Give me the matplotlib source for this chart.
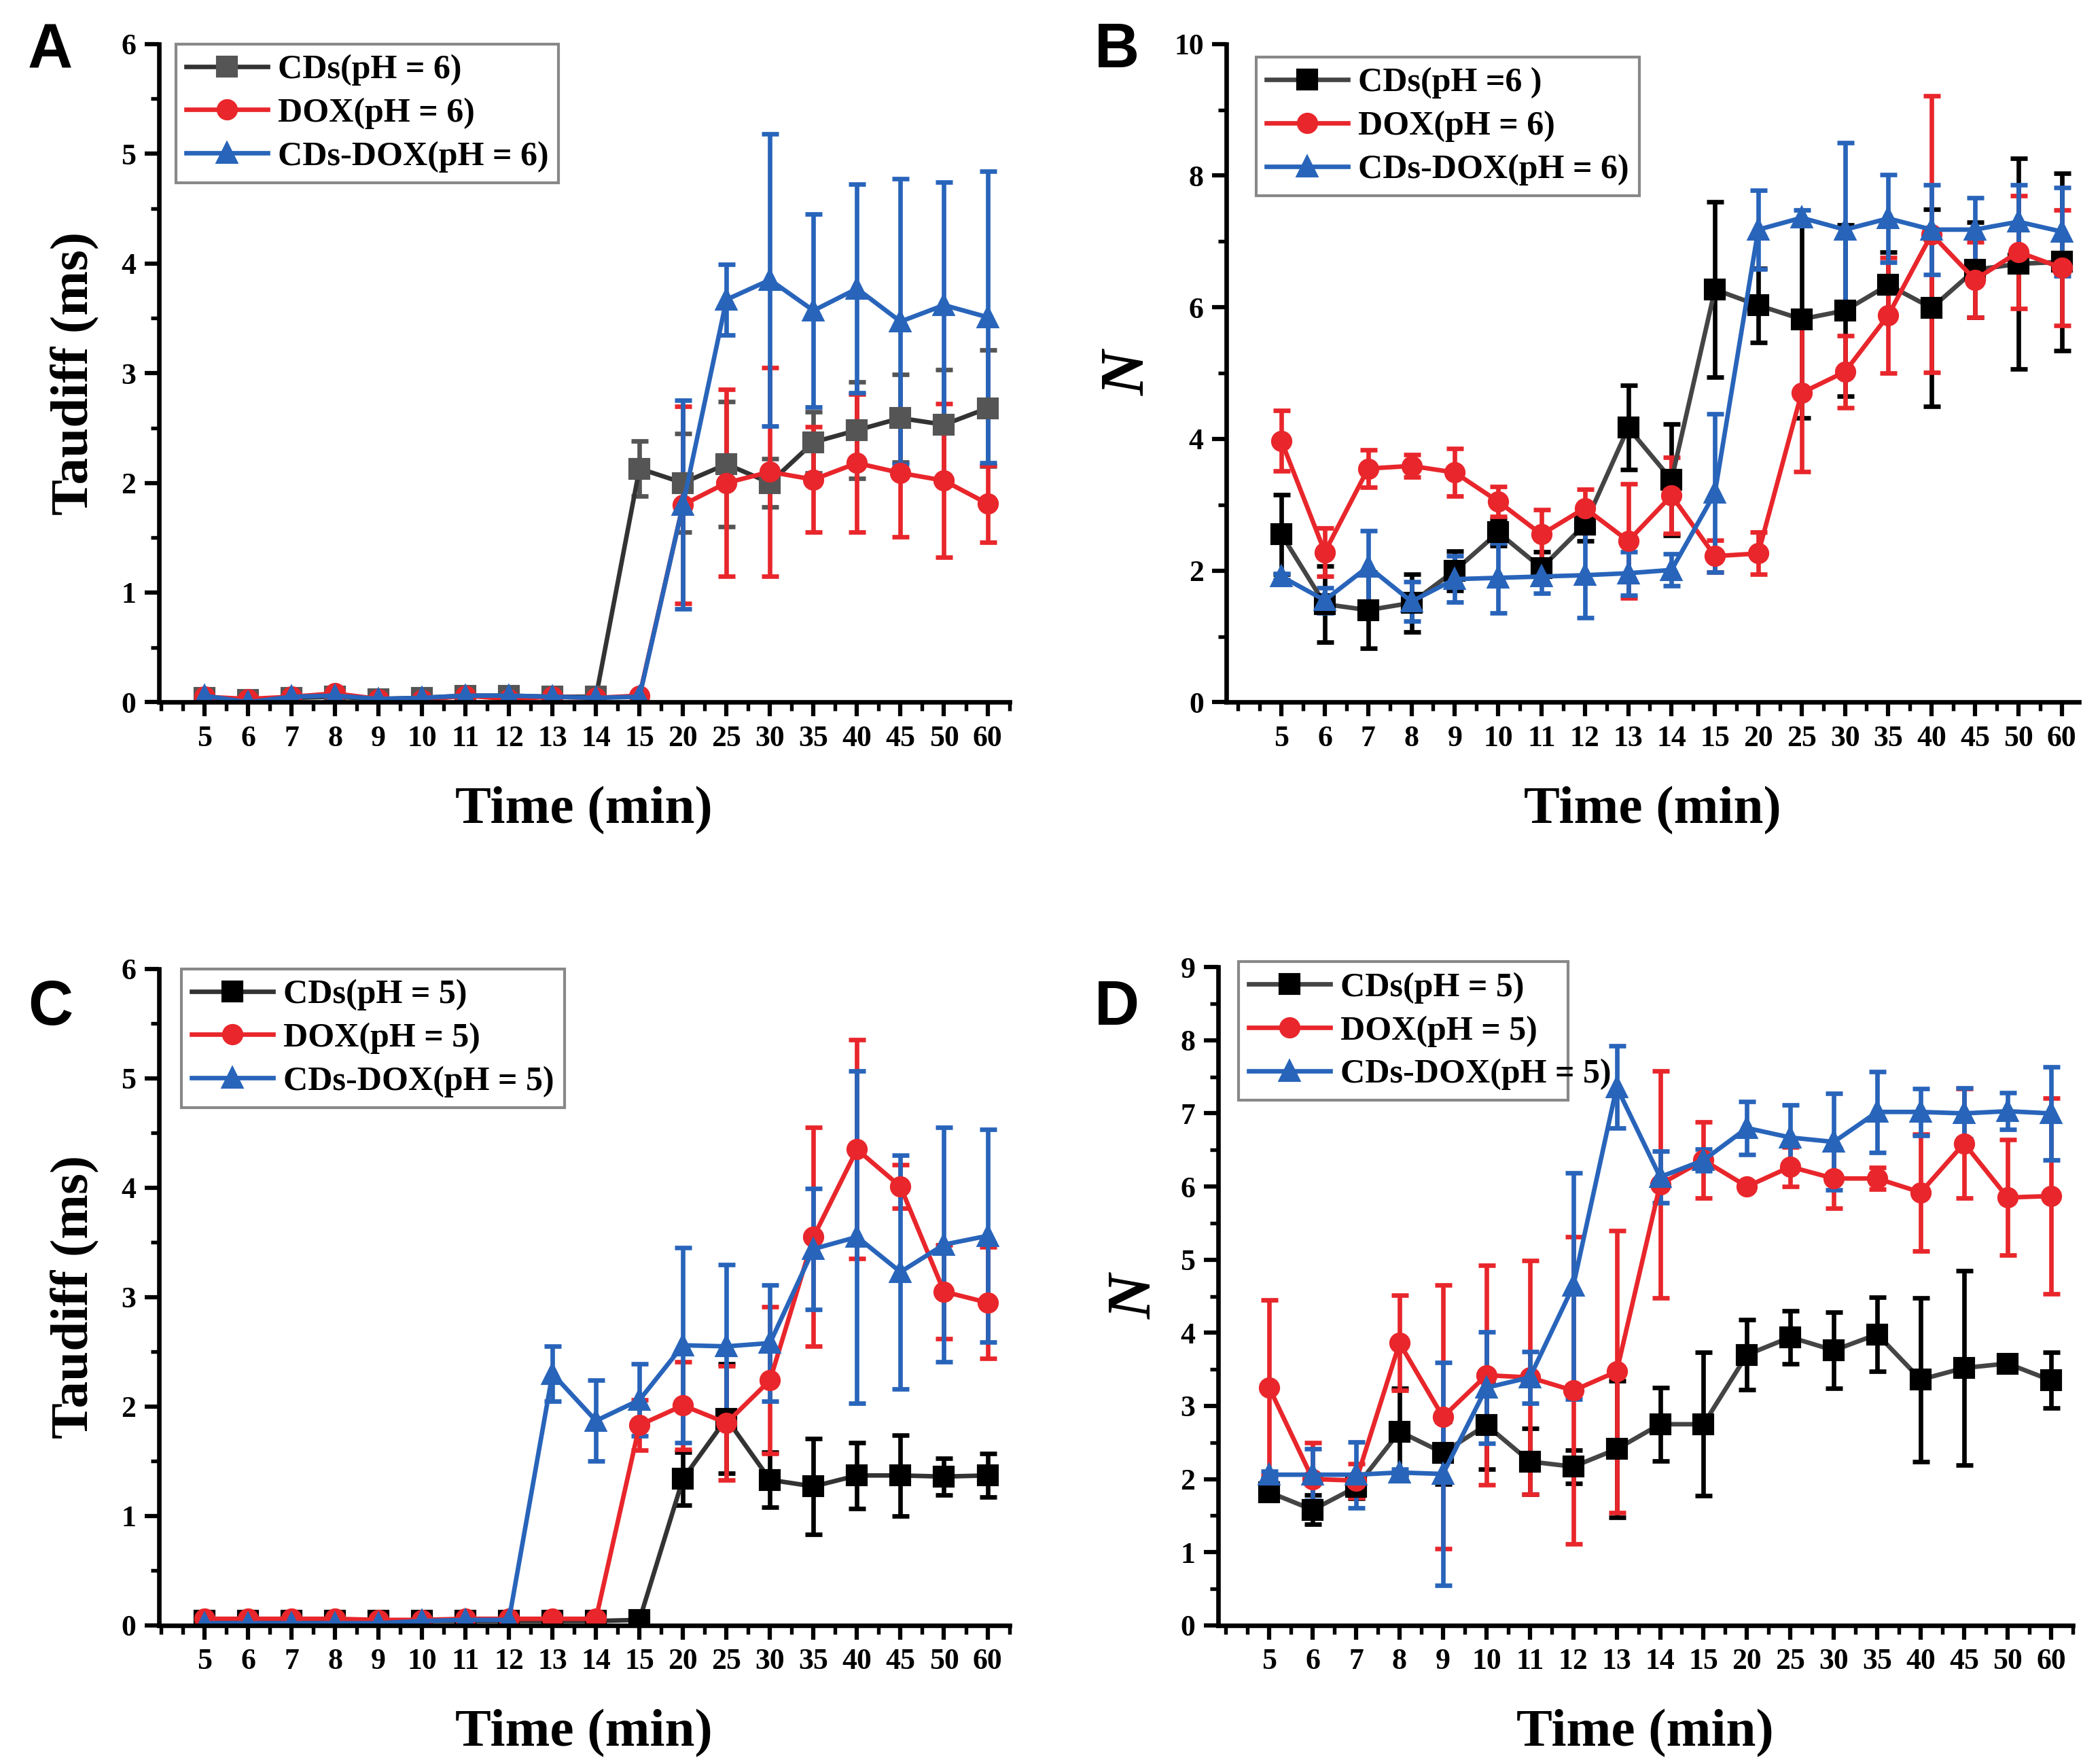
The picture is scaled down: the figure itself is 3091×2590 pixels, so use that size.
import numpy as np
import matplotlib
matplotlib.use('Agg')
import matplotlib.pyplot as plt
from matplotlib.ticker import MultipleLocator

plt.rcParams['font.family'] = ['Liberation Serif', 'DejaVu Serif']
plt.rcParams['font.weight'] = 'bold'

# 时间点（分类坐标）
time_labels = ['5', '6', '7', '8', '9', '10', '11', '12', '13', '14', '15',
               '20', '25', '30', '35', '40', '45', '50', '60']

# ---------------- A: Taudiff, pH = 6 ----------------
a_cds = [0.04, 0.02, 0.04, 0.05, 0.03, 0.04, 0.06, 0.06, 0.05, 0.05, 2.13,
         2.00, 2.17, 2.00, 2.37, 2.48, 2.59, 2.53, 2.68]
a_cds_err = [0.01, 0.01, 0.01, 0.01, 0.01, 0.01, 0.01, 0.01, 0.01, 0.01, 0.25,
             0.45, 0.57, 0.22, 0.28, 0.44, 0.40, 0.50, 0.53]
a_dox = [0.05, 0.03, 0.05, 0.08, 0.03, 0.02, 0.06, 0.03, 0.05, 0.04, 0.06,
         1.80, 2.00, 2.10, 2.03, 2.18, 2.09, 2.02, 1.81]
a_dox_err = [0.01, 0.01, 0.01, 0.01, 0.01, 0.01, 0.01, 0.01, 0.01, 0.01, 0.01,
             0.90, 0.85, 0.95, 0.48, 0.63, 0.58, 0.70, 0.35]
a_mix = [0.06, 0.00, 0.05, 0.06, 0.03, 0.04, 0.06, 0.06, 0.05, 0.04, 0.05,
         1.80, 3.67, 3.85, 3.57, 3.77, 3.47, 3.62, 3.51]
a_mix_err = [0.01, 0.01, 0.01, 0.01, 0.01, 0.01, 0.01, 0.01, 0.01, 0.01, 0.01,
             0.95, 0.32, 1.33, 0.88, 0.95, 1.30, 1.12, 1.33]

# ---------------- B: N, pH = 6 ----------------
b_cds = [2.55, 1.49, 1.40, 1.51, 2.00, 2.58, 2.04, 2.70, 4.17, 3.38, 6.27,
         6.03, 5.82, 5.95, 6.34, 5.99, 6.57, 6.66, 6.69]
b_cds_err = [0.60, 0.58, 0.58, 0.44, 0.30, 0.20, 0.25, 0.25, 0.64, 0.85, 1.33,
             0.56, 1.50, 1.30, 0.50, 1.50, 0.72, 1.60, 1.35]
b_dox = [3.97, 2.28, 3.55, 3.59, 3.49, 3.05, 2.55, 2.95, 2.45, 3.14, 2.22,
         2.26, 4.70, 5.02, 5.88, 7.11, 6.42, 6.84, 6.60]
b_dox_err = [0.46, 0.37, 0.28, 0.17, 0.36, 0.23, 0.38, 0.29, 0.87, 0.58, 0.24,
             0.32, 1.20, 0.55, 0.88, 2.10, 0.57, 0.86, 0.88]
b_mix = [1.91, 1.55, 2.06, 1.53, 1.87, 1.89, 1.91, 1.93, 1.96, 2.01, 3.18,
         7.18, 7.36, 7.18, 7.35, 7.18, 7.18, 7.30, 7.15]
b_mix_err = [0.05, 0.19, 0.55, 0.30, 0.35, 0.53, 0.25, 0.65, 0.33, 0.24, 1.20,
             0.60, 0.12, 1.32, 0.67, 0.68, 0.48, 0.56, 0.67]

# ---------------- C: Taudiff, pH = 5 ----------------
c_cds = [0.04, 0.04, 0.04, 0.04, 0.04, 0.04, 0.04, 0.04, 0.04, 0.04, 0.05,
         1.34, 1.89, 1.33, 1.27, 1.37, 1.37, 1.36, 1.37]
c_cds_err = [0.01, 0.01, 0.01, 0.01, 0.01, 0.01, 0.01, 0.01, 0.01, 0.01, 0.01,
             0.24, 0.50, 0.25, 0.44, 0.30, 0.37, 0.17, 0.20]
c_dox = [0.06, 0.06, 0.06, 0.06, 0.05, 0.05, 0.06, 0.06, 0.06, 0.06, 1.83,
         2.01, 1.85, 2.24, 3.55, 4.35, 4.01, 3.05, 2.95]
c_dox_err = [0.01, 0.01, 0.01, 0.01, 0.01, 0.01, 0.01, 0.01, 0.01, 0.01, 0.23,
             0.40, 0.52, 0.67, 1.00, 1.00, 0.20, 0.43, 0.51]
c_mix = [0.02, 0.02, 0.02, 0.02, 0.02, 0.04, 0.05, 0.05, 2.30, 1.87, 2.06,
         2.56, 2.55, 2.58, 3.44, 3.55, 3.23, 3.48, 3.56]
c_mix_err = [0.01, 0.01, 0.01, 0.01, 0.01, 0.01, 0.01, 0.01, 0.25, 0.37, 0.33,
             0.89, 0.75, 0.53, 0.55, 1.52, 1.07, 1.07, 0.97]

# ---------------- D: N, pH = 5 ----------------
d_cds = [1.82, 1.58, 1.89, 2.65, 2.36, 2.74, 2.24, 2.17, 2.41, 2.75, 2.75,
         3.70, 3.94, 3.76, 3.98, 3.36, 3.52, 3.58, 3.35]
d_cds_err = [0.10, 0.20, 0.15, 0.59, 0.43, 0.60, 0.45, 0.23, 0.93, 0.50, 0.98,
             0.48, 0.36, 0.52, 0.51, 1.12, 1.33, 0.08, 0.38]
d_dox = [3.25, 2.00, 1.98, 3.86, 2.85, 3.42, 3.39, 3.21, 3.47, 6.03, 6.36,
         6.00, 6.27, 6.11, 6.11, 5.92, 6.59, 5.85, 5.87]
d_dox_err = [1.20, 0.50, 0.23, 0.65, 1.80, 1.50, 1.60, 2.10, 1.93, 1.55, 0.52,
             0.05, 0.27, 0.41, 0.15, 0.80, 0.75, 0.79, 1.34]
d_mix = [2.06, 2.06, 2.06, 2.09, 2.07, 3.25, 3.39, 4.64, 7.36, 6.13, 6.36,
         6.80, 6.67, 6.61, 7.02, 7.02, 7.00, 7.03, 7.00]
d_mix_err = [0.05, 0.35, 0.45, 0.05, 1.52, 0.76, 0.35, 1.55, 0.56, 0.35, 0.15,
             0.36, 0.45, 0.66, 0.55, 0.32, 0.35, 0.25, 0.64]

RED = '#e8262b'
BLUE = '#2864ba'


def draw_panel(ax, series, labels, ymax, ymajor, ylabel, xlim, cds_color,
               legend_loc, narrow_box=False):
    x = np.arange(len(time_labels))
    styles = [('s', cds_color[0], cds_color[1]), ('o', RED, RED), ('^', BLUE, BLUE)]
    handles = []
    for (y, err), lab, (mk, lc, mc) in zip(series, labels, styles):
        cont = ax.errorbar(x, y, yerr=err, color=lc, marker=mk, markersize=6.5,
                           markerfacecolor=mc, markeredgecolor=mc, lw=1.6,
                           ecolor=mc, elinewidth=1.6, capsize=3, capthick=1.6)
        line = cont.lines[0]
        line.set_label(lab)
        handles.append(line)

    # 坐标轴
    ax.set_xlim(*xlim)
    ax.set_ylim(0, ymax)
    ax.set_xticks(x)
    ax.set_xticklabels(time_labels)
    ax.xaxis.set_minor_locator(MultipleLocator(0.5))
    ax.yaxis.set_major_locator(MultipleLocator(ymajor))
    ax.yaxis.set_minor_locator(MultipleLocator(ymajor / 2))
    for s in ['top', 'right']:
        ax.spines[s].set_visible(False)
    for s in ['left', 'bottom']:
        ax.spines[s].set_linewidth(1.6)
    ax.tick_params(which='major', direction='out', length=5, width=1.5,
                   labelsize=10.5, pad=3)
    ax.tick_params(which='minor', direction='out', length=3, width=1.3)
    for t in ax.get_xticklabels() + ax.get_yticklabels():
        t.set_fontweight('bold')

    ax.set_xlabel('Time (min)', fontsize=19, fontweight='bold', labelpad=12)
    if ylabel == 'N':
        ax.set_ylabel('N', fontsize=22, fontweight='bold', fontstyle='italic', labelpad=6)
    else:
        ax.set_ylabel(ylabel, fontsize=19, fontweight='bold', labelpad=8)

    # 图例
    leg = ax.legend(handles=handles, loc='upper left', bbox_to_anchor=legend_loc,
                    prop={'weight': 'bold', 'size': 12}, frameon=not narrow_box,
                    fancybox=False, edgecolor='#888888', framealpha=1,
                    handlelength=2.4, labelspacing=0.35, borderpad=0.3,
                    handletextpad=0.3, borderaxespad=0)
    leg.get_frame().set_linewidth(1.0)
    if narrow_box:
        # 原图D中图例框比文字窄，数据画在图例上方
        leg.set_zorder(0.5)
        fig.canvas.draw()
        bb = leg.get_window_extent().transformed(ax.transAxes.inverted())
        rect = plt.Rectangle((bb.x0, bb.y0), bb.width * 0.86, bb.height,
                             transform=ax.transAxes, fill=True, facecolor='white',
                             edgecolor='#888888', lw=1.0, clip_on=False, zorder=0.4)
        ax.add_patch(rect)


fig = plt.figure(figsize=(3091 / 300, 2590 / 300), dpi=300)

axA = fig.add_axes([0.0756, 0.601, 0.405, 0.374])
axB = fig.add_axes([0.584, 0.601, 0.406, 0.374])
axC = fig.add_axes([0.0756, 0.0765, 0.405, 0.373])
axD = fig.add_axes([0.580, 0.0765, 0.407, 0.374])

draw_panel(axA, [(a_cds, a_cds_err), (a_dox, a_dox_err), (a_mix, a_mix_err)],
           ['CDs(pH = 6)', 'DOX(pH = 6)', 'CDs-DOX(pH = 6)'],
           6, 1, 'Taudiff (ms)', (-1.05, 18.5), ('#333333', '#555555'), (0.02, 1.0))
draw_panel(axB, [(b_cds, b_cds_err), (b_dox, b_dox_err), (b_mix, b_mix_err)],
           ['CDs(pH =6 )', 'DOX(pH = 6)', 'CDs-DOX(pH = 6)'],
           10, 2, 'N', (-1.27, 18.4), ('#444444', 'black'), (0.035, 0.98))
draw_panel(axC, [(c_cds, c_cds_err), (c_dox, c_dox_err), (c_mix, c_mix_err)],
           ['CDs(pH = 5)', 'DOX(pH = 5)', 'CDs-DOX(pH = 5)'],
           6, 1, 'Taudiff (ms)', (-1.05, 18.5), ('#333333', 'black'), (0.027, 1.0))
draw_panel(axD, [(d_cds, d_cds_err), (d_dox, d_dox_err), (d_mix, d_mix_err)],
           ['CDs(pH = 5)', 'DOX(pH = 5)', 'CDs-DOX(pH = 5)'],
           9, 1, 'N', (-1.18, 18.5), ('#444444', 'black'), (0.024, 1.008),
           narrow_box=True)

# 面板字母
for lab, (fx, fy) in zip(['A', 'B', 'C', 'D'],
                         [(0.024, 0.971), (0.532, 0.971), (0.024, 0.427), (0.532, 0.427)]):
    fig.text(fx, fy, lab, fontsize=22, fontweight='bold', family='Liberation Sans',
             ha='center', va='center')

fig.savefig('out.png', dpi=300)
